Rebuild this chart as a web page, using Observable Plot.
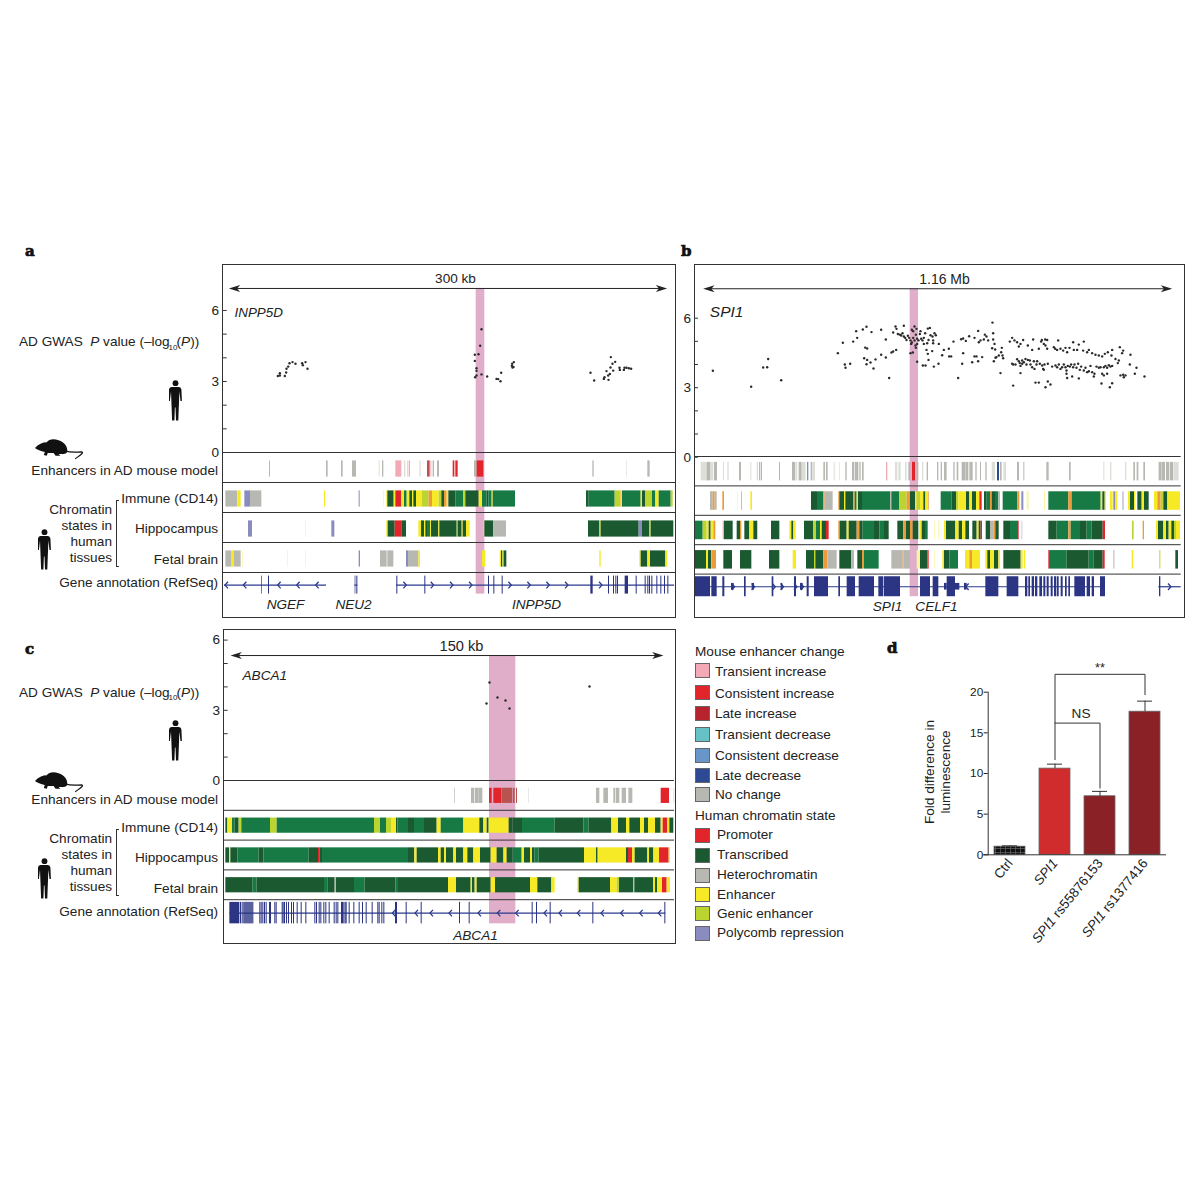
<!DOCTYPE html>
<html><head><meta charset="utf-8">
<script src="https://cdn.jsdelivr.net/npm/d3@7"></script>
<script src="https://cdn.jsdelivr.net/npm/@observablehq/plot@0.6"></script>
<style>
html,body{margin:0;padding:0;background:#fff}
#page{position:relative;width:1200px;height:1200px;overflow:hidden;font-family:"Liberation Sans",Arial,sans-serif;color:#222}
#page svg.plot{position:absolute;overflow:visible;background:none}
.l{position:absolute;white-space:nowrap;line-height:1;font-size:13.6px}
.box{position:absolute;border:1.3px solid #333;box-sizing:border-box}
sub{font-size:8px;line-height:0;margin:0 -1px}
.sw{position:absolute;width:15px;height:15px;box-sizing:border-box;border:1px solid #666}
</style></head><body><div id="page"></div>
<script>
// ---- state categories and colours ----
const mouseStates = ["Transient increase","Consistent increase","Late increase","Transient decrease","Consistent decrease","Late decrease","No change"];
const mouseColors = ["#f3aab6","#e2242b","#b7242d","#66c2c4","#6896c8","#2f4a94","#b8b8b2"];
const humanStates = ["Promoter","Transcribed","Heterochromatin","Enhancer","Genic enhancer","Polycomb repression"];
const humanColors = ["#e2242b","#1b5a30","#b8b8b2","#f6e926","#bcd430","#8a8bbf"];
const stateCodes  = ["TI","R","LI","TD","CD","LD","N","n","D","G","H","Y","y","O","P","p","A"];
const stateFills  = ["#f3aab6","#e2242b","#b7544f","#66c2c4","#6896c8","#2f4a94","#b8b8b2","#dedeD9","#1b5a30","#177a45","#b8b8b2","#f6e926","#faf3a6","#bcd430","#8a8bbf","#cfd0e6","#ee9a3a"];

// ---- panel a ----
const aGwas = [[172,3.23],[178,3.25],[178,3.35],[193,3.23],[197,3.38],[198,3.54],[203,3.63],[207,3.77],[216,3.82],[225,3.75],[245,3.77],[247,3.69],[255,3.82],[261,3.54],
[783,5.21],[779,4.51],[774,4.15],[763,4.13],[763,3.87],[768,3.56],[768,3.45],[768,3.25],[764,3.18],[783,3.3],[800,3.21],[842,3.37],[828,3.11],[833,3.1],[840,3.01],[880,3.82],[875,3.75],[874,3.66],[879,3.61],[876,3.59],
[1110,3.37],[1121,3.04],[1150,3.11],[1152,3.18],[1158,3.44],[1164,3.07],[1163,3.25],[1168,3.32],[1170,3.59],[1171,4.03],[1176,3.75],[1178,3.46],[1184,3.83],[1197,3.58],[1198,3.49],[1210,3.49],[1212,3.58],[1218,3.58],[1225,3.56],[1232,3.54]];
const aEnh = [[147,150,"N"],[318,323,"N"],[363,368,"N"],[396,408,"N"],[476,479,"n"],[486,490,"N"],[526,544,"TI"],[552,556,"n"],[561,564,"n"],[566,570,"TI"],[598,602,"n"],[621,629,"LI"],[631,634,"TI"],[638,642,"N"],[651,657,"N"],[698,703,"R"],[706,713,"R"],[762,770,"N"],[770,790,"R"],[1117,1121,"N"],[1219,1221,"n"],[1282,1289,"N"]];
const aImm = [[16,52,"H"],[53,62,"Y"],[73,90,"P"],[90,124,"H"],[312,315,"Y"],[416,419,"P"],[490,492,"y"],[499,502,"Y"],[502,521,"D"],[521,526,"Y"],[526,544,"R"],[544,552,"Y"],[552,560,"G"],[560,568,"Y"],[568,576,"D"],[576,580,"Y"],[580,588,"D"],[588,606,"Y"],[606,626,"O"],[626,636,"A"],[636,656,"Y"],[656,664,"O"],[664,672,"D"],[672,680,"A"],[680,685,"Y"],[685,706,"D"],[706,730,"G"],[730,736,"O"],[736,776,"D"],[776,786,"Y"],[786,800,"G"],[800,805,"D"],[805,815,"G"],[815,818,"Y"],[818,885,"G"],[1098,1106,"D"],[1106,1184,"G"],[1184,1198,"O"],[1198,1202,"A"],[1202,1206,"Y"],[1206,1262,"G"],[1262,1266,"Y"],[1266,1275,"D"],[1275,1296,"O"],[1296,1306,"G"],[1306,1316,"Y"],[1316,1352,"G"],[1352,1358,"O"]];
const aHip = [[84,96,"P"],[255,257,"y"],[334,343,"P"],[499,503,"Y"],[503,524,"D"],[524,544,"R"],[544,558,"D"],[595,603,"Y"],[603,612,"D"],[612,616,"Y"],[616,621,"D"],[621,630,"G"],[630,633,"Y"],[633,655,"D"],[655,658,"Y"],[658,710,"D"],[710,713,"O"],[713,725,"D"],[725,728,"Y"],[728,738,"D"],[738,749,"Y"],[790,793,"Y"],[793,820,"D"],[820,858,"H"],[1104,1138,"D"],[1138,1142,"O"],[1142,1256,"D"],[1256,1266,"P"],[1266,1288,"D"],[1288,1292,"O"],[1292,1360,"D"]];
const aFet = [[16,33,"H"],[33,42,"Y"],[42,62,"H"],[66,68,"y"],[202,204,"y"],[256,258,"y"],[416,420,"P"],[480,500,"H"],[502,520,"H"],[558,564,"P"],[564,595,"H"],[595,600,"Y"],[786,796,"Y"],[839,843,"Y"],[843,847,"D"],[847,851,"O"],[851,859,"D"],[1138,1142,"Y"],[1258,1262,"Y"],[1262,1282,"D"],[1282,1290,"Y"],[1290,1336,"D"],[1336,1342,"Y"]];
const aIntrons = [[12,318],[403,412],[528,1362]];
const aExons = [[123,125],[144,147],[404,406],[409,412],[529,532],[613,616],[804,807],[820,823],[845,848],[1111,1118],[1164,1167],[1179,1182],[1186,1189],[1191,1194],[1214,1224],[1247,1250],[1274,1277],[1282,1285],[1287,1290],[1294,1297],[1309,1312],[1321,1324],[1332,1335],[1342,1345]];
const aChevL = [18,73,176,233,290];
const aChevR = [553,635,693,750,868,925,982,1038,1140];
const aNames = [["NGEF",195],["NEU2",399],["INPP5D",948]];

// ---- panel b ----
const bGwas = [[67,3.73],[182,3.04],[218,3.87],[230,3.88],[233,4.24],[272,3.32],
[442,4.49],[457,4.94],[463,4.0],[465,3.86],[479,4.03],[488,4.99],[497,5.44],[500,5.15],[517,5.51],[528,5.63],[543,5.4],[572,5.5],[524,4.73],[530,4.69],[521,4.27],[530,4.2],[528,4.01],[540,4.09],[555,4.22],[549,3.83],[572,4.42],[586,4.3],[586,5.08],[596,3.42],[603,4.52],[608,4.56],[617,4.63],
[608,5.38],[615,5.64],[618,5.54],[622,5.32],[628,5.29],[632,5.25],[636,5.35],[640,5.67],[640,5.21],[644,5.15],[648,5.06],[652,5.24],[656,5.15],[660,5.04],[664,5.5],[664,4.95],[668,5.44],[668,5.15],[672,5.64],[672,5.04],[676,5.29],[678,5.54],[680,5.11],[684,5.04],[688,5.32],[690,5.44],[692,5.11],[696,5.04],[700,5.15],[704,5.35],[712,5.55],[718,5.58],[714,5.06],[720,5.26],[726,5.21],[732,5.35],[736,5.26],[660,4.49],[667,4.52],[676,4.72],[680,4.12],[697,3.96],[705,3.96],[714,4.2],[708,4.63],[712,4.46],[725,4.58],[728,4.92],[730,3.91],[744,4.03],[745,4.89],[662,4.89],[675,4.82],[680,4.89],[700,4.89],[710,4.92],[728,5.04],
[755,4.4],[760,4.63],[775,4.68],[776,4.35],[782,4.35],[789,4.99],[803,3.42],[815,4.03],[812,5.09],[818,5.12],[818,4.49],[826,5.02],[836,5.22],[845,4.1],[852,5.15],[852,4.35],[858,4.35],[863,5.45],[863,4.14],[865,4.96],[870,5.04],[875,4.32],[880,5.08],[883,5.29],[888,5.21],[893,5.04],[906,5.81],[908,5.35],[908,5.08],[905,4.7],[912,4.89],[914,4.65],[915,4.29],[910,4.14],[918,4.32],[925,4.39],[932,4.53],[934,4.72],[936,4.39],[938,4.27],[930,3.63],
[958,4.99],[965,5.15],[972,5.04],[980,4.96],[985,4.78],[990,4.89],[998,5.06],[1012,4.82],[1025,4.63],[1028,5.08],[1045,4.68],[1052,4.99],[1054,5.06],[1060,4.89],[1064,5.08],[1070,5.06],[1065,4.82],[1070,4.68],[1090,4.75],[1094,4.68],[1100,4.63],[1103,5.04],[1110,4.68],[1118,4.6],[1125,4.72],[1130,4.53],[1137,4.72],[1148,4.96],[1150,4.63],[1160,4.63],[1165,4.86],[1180,4.99],[1178,4.6],[1190,4.53],[1195,4.63],[1205,4.49],[1215,4.42],[1225,4.39],[1235,4.35],[1243,4.46],[1252,4.53],[1265,4.63],[1263,4.39],[1275,4.24],[1285,4.17],[1288,4.75],[1295,4.49],[1298,4.6],[1320,4.42],
[965,4.03],[968,4.0],[975,4.0],[980,4.23],[985,4.14],[988,4.06],[990,3.94],[995,4.17],[995,4.03],[1000,4.1],[1005,4.24],[1008,4.0],[1012,4.2],[1018,4.17],[1020,4.0],[1025,3.88],[1030,4.14],[1032,3.81],[1038,4.0],[1040,4.14],[1048,4.03],[1055,3.96],[1058,3.81],[1062,4.0],[1072,4.03],[1085,3.91],[1095,3.96],[1100,3.88],[1105,4.0],[1110,3.81],[1115,3.88],[1120,4.0],[1125,3.88],[1128,3.74],[1132,3.94],[1138,3.91],[1142,4.0],[1148,3.88],[1152,4.0],[1158,3.86],[1163,4.03],[1168,3.77],[1172,3.91],[1180,3.74],[1185,3.86],[1190,3.67],[1195,3.71],[1200,3.94],[1205,3.67],[1212,3.6],[1218,3.91],[1225,3.86],[1230,3.88],[1235,3.6],[1240,3.88],[1245,3.94],[1250,3.86],[1255,3.97],[1260,3.91],[1265,3.94],[1250,3.6],[1282,4.06],[1290,3.53],[1298,3.56],[1300,3.45],[1305,3.53],[1318,4.0],[1333,3.6],[1338,3.86],[1362,3.48],
[968,3.09],[1035,3.22],[1045,3.22],[1072,3.27],[1080,3.14],[1065,3.02],[1233,3.18],[1258,3.02],[1265,3.19],[1128,3.6],[1145,3.48],[1165,3.4],[1210,3.48],[1240,3.53],[1130,3.42],[990,3.63],[1060,3.77]];
const bEnh = [[32,50,"n"],[50,60,"N"],[60,70,"n"],[72,81,"N"],[99,102,"n"],[112,116,"n"],[147,153,"N"],[181,184,"n"],[200,204,"n"],[207,210,"N"],[212,216,"N"],[267,270,"N"],[306,316,"N"],[318,322,"n"],[326,335,"N"],[336,347,"n"],[351,355,"CD"],[362,367,"N"],[368,375,"n"],[400,405,"N"],[408,413,"N"],[431,434,"n"],[448,450,"n"],[466,470,"N"],[486,492,"N"],[494,505,"N"],[508,512,"N"],[516,521,"N"],[588,592,"TI"],[615,622,"n"],[625,632,"n"],[645,650,"n"],[655,660,"N"],[666,675,"R"],[680,685,"N"],[696,700,"n"],[710,714,"N"],[741,745,"N"],[752,756,"N"],[762,770,"N"],[790,794,"N"],[800,805,"N"],[815,825,"N"],[826,835,"N"],[838,848,"N"],[856,860,"N"],[870,873,"N"],[886,890,"N"],[905,915,"n"],[921,927,"LD"],[930,935,"N"],[940,948,"n"],[981,987,"N"],[1000,1003,"N"],[1069,1076,"N"],[1137,1142,"N"],[1240,1243,"n"],[1260,1264,"n"],[1305,1309,"n"],[1330,1335,"N"],[1340,1345,"N"],[1360,1365,"N"],[1406,1415,"N"],[1416,1425,"N"],[1428,1438,"N"],[1440,1450,"N"],[1452,1466,"n"]];
const bImm = [[60,68,"H"],[68,74,"A"],[74,80,"H"],[97,102,"A"],[142,144,"y"],[153,156,"TI"],[181,186,"Y"],[363,381,"D"],[381,400,"G"],[400,404,"A"],[404,428,"H"],[445,448,"A"],[448,462,"D"],[462,466,"Y"],[466,490,"D"],[490,494,"A"],[494,500,"G"],[500,504,"Y"],[504,516,"D"],[516,600,"G"],[600,604,"H"],[604,628,"G"],[628,650,"O"],[650,660,"A"],[660,675,"D"],[675,680,"Y"],[680,690,"O"],[690,700,"Y"],[700,706,"D"],[706,714,"Y"],[714,716,"A"],[752,785,"G"],[785,798,"D"],[798,805,"O"],[805,828,"Y"],[828,838,"D"],[838,846,"Y"],[846,858,"D"],[858,868,"Y"],[868,875,"R"],[882,890,"D"],[890,900,"G"],[900,905,"A"],[905,915,"D"],[915,925,"G"],[925,930,"H"],[938,982,"G"],[982,988,"A"],[994,1000,"P"],[1010,1016,"y"],[1062,1065,"y"],[1075,1135,"G"],[1135,1145,"A"],[1145,1232,"G"],[1232,1237,"Y"],[1237,1244,"D"],[1244,1248,"Y"],[1260,1268,"Y"],[1270,1276,"P"],[1276,1282,"Y"],[1296,1302,"p"],[1314,1320,"Y"],[1320,1332,"D"],[1332,1336,"Y"],[1342,1355,"D"],[1355,1362,"Y"],[1362,1376,"D"],[1392,1402,"Y"],[1402,1412,"A"],[1412,1420,"O"],[1420,1432,"D"],[1432,1470,"Y"]];
const bHip = [[14,38,"G"],[38,50,"O"],[50,56,"Y"],[56,62,"D"],[62,70,"Y"],[70,76,"A"],[98,102,"TI"],[102,128,"D"],[140,150,"D"],[150,154,"A"],[163,178,"D"],[178,190,"Y"],[190,202,"D"],[202,204,"Y"],[243,268,"D"],[298,304,"Y"],[304,310,"D"],[310,317,"Y"],[342,370,"D"],[370,378,"O"],[378,390,"G"],[390,395,"Y"],[395,408,"D"],[408,416,"R"],[445,449,"A"],[449,470,"D"],[470,476,"Y"],[476,500,"D"],[500,508,"A"],[508,518,"D"],[518,552,"G"],[552,568,"D"],[568,582,"G"],[582,596,"D"],[622,640,"D"],[640,648,"A"],[648,660,"D"],[660,668,"A"],[668,685,"D"],[688,695,"Y"],[695,705,"D"],[705,713,"G"],[732,734,"y"],[745,748,"y"],[762,768,"Y"],[768,796,"D"],[796,806,"Y"],[806,816,"D"],[816,826,"Y"],[826,837,"D"],[847,860,"D"],[860,866,"Y"],[866,872,"D"],[872,876,"R"],[887,900,"D"],[900,910,"H"],[910,916,"A"],[916,926,"D"],[940,960,"D"],[960,984,"G"],[984,986,"R"],[994,997,"p"],[1075,1100,"D"],[1100,1135,"G"],[1135,1142,"A"],[1142,1170,"G"],[1170,1190,"D"],[1190,1205,"G"],[1205,1238,"D"],[1238,1245,"R"],[1326,1331,"O"],[1358,1362,"A"],[1398,1404,"Y"],[1404,1420,"D"],[1420,1428,"Y"],[1428,1436,"D"],[1436,1444,"Y"],[1444,1452,"D"],[1452,1458,"O"],[1458,1470,"Y"]];
const bFet = [[14,48,"D"],[48,54,"Y"],[54,64,"D"],[66,78,"A"],[100,126,"D"],[150,184,"D"],[237,268,"D"],[308,318,"Y"],[348,372,"D"],[372,376,"O"],[376,400,"D"],[400,412,"A"],[412,440,"H"],[448,484,"D"],[484,492,"H"],[502,516,"D"],[516,522,"A"],[522,566,"G"],[604,638,"H"],[638,640,"A"],[640,660,"H"],[680,690,"y"],[690,712,"D"],[712,716,"R"],[732,734,"y"],[757,762,"Y"],[762,778,"D"],[778,804,"G"],[825,838,"Y"],[838,846,"A"],[846,870,"Y"],[886,892,"Y"],[892,900,"D"],[900,912,"Y"],[912,925,"D"],[925,930,"Y"],[940,992,"D"],[992,998,"Y"],[1002,1006,"Y"],[1075,1080,"R"],[1080,1130,"G"],[1130,1196,"D"],[1196,1210,"G"],[1210,1238,"D"],[1238,1244,"R"],[1270,1273,"H"],[1325,1330,"Y"],[1408,1411,"O"],[1456,1464,"D"]];
const bIntrons = [[12,1245],[1405,1472]];
const bExons = [[14,60],[64,80],[97,103],[162,167],[245,250],[312,318],[350,356],[372,414],[445,450],[470,495],[506,552],[565,580],[582,630],[690,720],[728,745],[770,795],[886,925],[950,985],[1005,1012],[1015,1020],[1025,1032],[1035,1042],[1048,1056],[1060,1066],[1070,1076],[1082,1088],[1092,1098],[1100,1106],[1112,1118],[1125,1130],[1135,1140],[1153,1185],[1190,1200],[1205,1212],[1230,1245],[1407,1411]];
const bUtrs = [[123,131],[185,192],[272,277],[330,338],[762,770],[795,808],[822,830]];
const bChevL = [830];
const bChevR = [128,188,250,275,315,335,1437];
const bNames = [["SPI1",591],["CELF1",738]];

// ---- panel c ----
const cGwas = [[807,4.19],[798,3.29],[831,3.55],[855,3.42],[867,3.08],[1107,4.02]];
const cEnh = [[703,705,"N"],[753,763,"N"],[765,775,"N"],[775,787,"N"],[807,815,"R"],[820,843,"R"],[844,876,"LI"],[878,884,"LI"],[888,891,"LI"],[925,927,"n"],[1128,1138,"N"],[1150,1164,"N"],[1180,1186,"N"],[1188,1198,"N"],[1205,1218,"N"],[1225,1237,"N"],[1322,1347,"R"],[1360,1363,"n"]];
const cImm = [[16,22,"D"],[22,36,"Y"],[36,44,"G"],[44,56,"D"],[56,64,"O"],[64,150,"G"],[150,170,"O"],[170,462,"G"],[462,480,"O"],[480,498,"G"],[498,513,"O"],[513,528,"Y"],[528,532,"D"],[532,564,"G"],[564,582,"D"],[582,612,"G"],[612,650,"D"],[650,662,"Y"],[662,730,"G"],[730,778,"Y"],[778,790,"D"],[790,800,"Y"],[800,806,"D"],[806,866,"Y"],[866,878,"D"],[878,906,"D"],[906,1004,"G"],[1004,1090,"D"],[1090,1106,"G"],[1106,1174,"D"],[1174,1194,"Y"],[1194,1218,"D"],[1218,1228,"Y"],[1228,1260,"D"],[1260,1272,"Y"],[1272,1284,"D"],[1284,1305,"Y"],[1305,1322,"D"],[1322,1328,"Y"],[1328,1342,"R"],[1342,1348,"Y"],[1348,1360,"D"]];
const cHip = [[16,27,"D"],[27,31,"Y"],[31,52,"D"],[52,116,"G"],[116,130,"D"],[130,266,"G"],[266,294,"D"],[294,298,"R"],[298,306,"D"],[306,564,"G"],[564,583,"D"],[583,590,"Y"],[590,654,"D"],[654,662,"Y"],[662,672,"D"],[672,678,"Y"],[678,700,"D"],[700,708,"Y"],[708,730,"D"],[730,742,"Y"],[742,760,"D"],[760,780,"Y"],[780,812,"D"],[812,830,"Y"],[830,850,"D"],[850,860,"Y"],[860,878,"D"],[878,905,"G"],[905,912,"Y"],[912,930,"D"],[930,936,"Y"],[936,944,"D"],[944,956,"G"],[956,1092,"D"],[1092,1128,"Y"],[1128,1133,"D"],[1133,1218,"Y"],[1218,1224,"D"],[1224,1236,"R"],[1236,1244,"Y"],[1244,1282,"D"],[1282,1287,"Y"],[1287,1300,"D"],[1300,1317,"Y"],[1317,1346,"R"],[1346,1350,"Y"]];
const cFet = [[16,98,"D"],[98,110,"G"],[110,312,"D"],[312,322,"G"],[322,344,"D"],[344,348,"H"],[348,402,"D"],[402,434,"G"],[434,526,"D"],[526,534,"G"],[534,684,"D"],[684,708,"Y"],[708,752,"D"],[752,756,"Y"],[756,764,"D"],[764,770,"Y"],[770,812,"D"],[812,825,"Y"],[825,930,"D"],[930,952,"Y"],[952,994,"D"],[994,1004,"Y"],[1072,1076,"Y"],[1076,1170,"D"],[1170,1190,"Y"],[1190,1197,"O"],[1197,1240,"D"],[1240,1243,"H"],[1243,1300,"D"],[1300,1305,"Y"],[1305,1311,"D"],[1311,1326,"Y"],[1326,1340,"R"],[1340,1350,"Y"]];
const cIntrons = [[28,1336]];
const cExons = [[28,58],[525,531],...[60,65,70,73,76,79,82,85,88,91,94,97,118,122,127,132,137,147,150,163,167,185,188,192,198,204,213,219,230,242,256,283,288,296,301,310,316,326,341,347,352,363,366,370,374,377,386,400,416,426,437,455,472,476,484,490,557,602,717,746,935,948,989,1117,1333].map(x=>[x,x+3])];
const cChevL = [520,588,633,690,777,835,890,975,1020,1075,1146,1205,1262,1318];
const cChevR = [];
const cNames = [["ABCA1",765]];

// ---- panel d ----
const dCats = ["Ctrl","SPI1","SPI1 rs55876153","SPI1 rs1377416"];
const dMeans = [1.0,10.6,7.2,17.6];
const dHighs = [1.1,11.15,7.8,18.9];
const dColors = ["url(#ctrlGrid)","#d02c2e","#8a2127","#8a2127"];
const dBracketOuter = [[ "SPI1",11.7],["SPI1",22.2],["SPI1 rs1377416",22.2],["SPI1 rs1377416",19.7]];
const dBracketInner = [["SPI1",16.2],["SPI1 rs55876153",16.2],["SPI1 rs55876153",8.2]];

// ---- helpers ----
const FONT = '"Liberation Sans",Arial,sans-serif';
const page = document.getElementById("page");
const stateColor = {type:"ordinal",domain:stateCodes,range:stateFills};
function label(html,x,y,o={}){
  const e=document.createElement("div");e.className="l";e.innerHTML=html;
  e.style.left=x+"px";e.style.top=y+"px";
  const tx=o.anchor==="end"?"-100%":o.anchor==="middle"?"-50%":"0";
  e.style.transform=`translate(${tx},-50%)`+(o.rotate?` rotate(${o.rotate}deg)`:"");
  if(o.size)e.style.fontSize=o.size+"px";
  if(o.italic)e.style.fontStyle="italic";
  if(o.bold){e.style.fontWeight="900";e.style.fontFamily='"DejaVu Serif",serif';e.style.webkitTextStroke=".7px #111";e.style.color="#111"}
  page.appendChild(e);return e;
}
function place(svg,left,top){svg.classList.add("plot");svg.style.left=left+"px";svg.style.top=top+"px";page.appendChild(svg);return svg}
function frameBox(x1,y1,x2,y2){const b=document.createElement("div");b.className="box";b.style.cssText=`left:${x1}px;top:${y1}px;width:${x2-x1}px;height:${y2-y1}px`;page.appendChild(b)}
const arrowHead={draw(c,s){const r=Math.sqrt(s);c.moveTo(r,0);c.lineTo(-r,-r*.62);c.lineTo(-r*.45,0);c.lineTo(-r,r*.62);c.closePath()}};
const chevron={draw(c,s){const r=Math.sqrt(s)*.62;c.moveTo(-r*.45,-r);c.lineTo(r*.45,0);c.lineTo(-r*.45,r)}};
const NAVY="#2b3a8c";
const BLUE="#2c3583";

function panel(p){
  const rows=[p.enh,p.imm,p.hip,p.fet];
  const segs=rows.flatMap((a,i)=>a.map(([x1,x2,s])=>({x1,x2,s,row:i})));
  const xs={domain:[0,p.xmax],range:[20,20+p.xmax/3],axis:null};
  // GWAS scatter
  place(Plot.plot({
    width:p.xmax/3+20,height:p.baseY-p.top,marginLeft:p.frameL-p.originX+20,marginTop:0,marginRight:0,marginBottom:0,
    style:{fontFamily:FONT,fontSize:"13.6px",color:"#222",background:"none"},
    x:xs,y:{domain:[0,6],range:[p.baseY-p.top,p.baseY-p.top-6*p.unit]},
    marks:[
      Plot.rect([0],{x1:p.pink[0],x2:p.pink[1],y1:0,y2:p.arrowV,fill:"#e0aec9"}),
      Plot.ruleY(d3.range(0,7),{x1:p.tickU,x2:p.tickU+12,stroke:"#333",strokeWidth:1}),
      Plot.axisY([0,3,6],{anchor:"left",tickSize:0,tickPadding:3.5,tickFormat:d3.format("d"),label:null,fontSize:13.6}),
      Plot.ruleY([p.arrowV],{x1:p.arrow[0],x2:p.arrow[1],stroke:"#222",strokeWidth:1}),
      Plot.dot(p.arrow.map((x,i)=>({x,r:i?0:180})),{x:"x",y:()=>p.arrowV,symbol:()=>arrowHead,r:3.2,rotate:"r",fill:"#222",stroke:"none"}),
      Plot.text([p.span],{x:p.spanX,y:p.arrowV,text:d=>d,dy:-9.5,fontSize:p.spanSize,fill:"#222"}),
      Plot.text([p.gene],{x:p.geneX,y:p.geneV,text:d=>d,textAnchor:"start",fontStyle:"italic",fontSize:p.geneSize||13.4,fill:"#222"}),
      Plot.dot(p.gwas,{x:"0",y:"1",r:p.dotR||1.2,fill:"#2a2a2a",stroke:"none"})
    ]
  }),p.originX-20,p.top);
  // annotation tracks
  const [i1,i2]=p.barInset,[g1,g2]=p.geneInset;
  const yMid=4+(g1+g2)/2;
  place(Plot.plot({
    width:p.xmax/3+20,height:p.rowH*5+30,margin:0,
    style:{fontFamily:FONT,background:"none"},
    x:xs,y:{domain:[0,5],range:[0,p.rowH*5],axis:null},
    color:stateColor,
    marks:[
      Plot.rect([0],{x1:p.pink[0],x2:p.pink[1],y1:0,y2:4+g2,fill:"#e0aec9"}),
      Plot.rect(segs,{x1:"x1",x2:"x2",y1:d=>d.row+i1,y2:d=>d.row+i2,fill:"s"}),
      Plot.ruleY(d3.range(0,5),{x1:p.sepU[0],x2:p.sepU[1],stroke:"#333",strokeWidth:1}),
      Plot.ruleY(p.introns,{x1:"0",x2:"1",y:()=>yMid,stroke:NAVY,strokeWidth:1.2}),
      Plot.rect(p.exons,{x1:"0",x2:"1",y1:()=>4+g1,y2:()=>4+g2,fill:BLUE}),
      Plot.rect(p.utrs||[],{x1:"0",x2:"1",y1:()=>4+(g1*2+g2)/3,y2:()=>4+(g1+g2*2)/3,fill:BLUE}),
      Plot.dot(p.chevR,{x:d=>d,y:()=>yMid,symbol:()=>chevron,r:3,fill:"none",stroke:NAVY,strokeWidth:1.3}),
      Plot.dot(p.chevL,{x:d=>d,y:()=>yMid,symbol:()=>chevron,r:3,rotate:180,fill:"none",stroke:NAVY,strokeWidth:1.3}),
      Plot.text(p.names,{x:"1",y:()=>p.nameRow,text:"0",fontStyle:"italic",fontSize:13.6,fill:"#222"})
    ]
  }),p.originX-20,p.baseSep);
  frameBox(p.frameL,p.top,p.frameR,p.frameB);
}

panel({originX:220,top:264,baseY:452,baseSep:452,unit:23.67,rowH:30,xmax:1380,frameL:222,frameR:676,frameB:618,tickU:8,
  pink:[767,793],arrow:[42,1323],arrowV:6.93,span:"300 kb",spanX:705,spanSize:13.6,gene:"INPP5D",geneX:42,geneV:5.92,geneSize:13.4,
  barInset:[.28,.82],geneInset:[.12,.72],sepU:[8,1365],nameRow:5.08,
  gwas:aGwas,enh:aEnh,imm:aImm,hip:aHip,fet:aFet,introns:aIntrons,exons:aExons,chevR:aChevR,chevL:aChevL,names:aNames});
panel({originX:690,top:264,baseY:456.7,baseSep:456,unit:23.17,rowH:29.4,xmax:1500,frameL:694,frameR:1185,frameB:618,tickU:12,
  pink:[659,684],arrow:[55,1428],arrowV:7.27,span:"1.16 Mb",spanX:762,spanSize:14,gene:"SPI1",geneX:58,geneV:6.25,geneSize:15.5,
  barInset:[.2,.83],geneInset:[.09,.77],sepU:[12,1472],nameRow:5.11,
  gwas:bGwas,enh:bEnh,imm:bImm,hip:bHip,fet:bFet,introns:bIntrons,exons:bExons,utrs:bUtrs,chevR:bChevR,chevL:bChevL,names:bNames});
panel({originX:220,top:629,baseY:780,baseSep:780,unit:23.4,rowH:29.8,xmax:1380,frameL:223,frameR:676,frameB:944,tickU:11,
  pink:[807,886],arrow:[47,1312],arrowV:5.34,span:"150 kb",spanX:723,spanSize:14.6,gene:"ABCA1",geneX:66,geneV:4.48,geneSize:13.6,
  barInset:[.26,.77],geneInset:[.09,.81],sepU:[11,1362],nameRow:5.22,
  gwas:cGwas,enh:cEnh,imm:cImm,hip:cHip,fet:cFet,introns:cIntrons,exons:cExons,chevR:cChevR,chevL:cChevL,names:cNames});

// ---- panel letters ----
[["a",25,251],["b",681,251],["c",25,649],["d",887,648]].forEach(([t,x,y])=>label(t,x,y,{bold:true,size:15}));

// ---- row labels left of panels a and c ----
function sideLabels(o,gwasY,enhY,imm,hip,fet,gene){
  label('AD GWAS&nbsp; <i>P</i> value (–log<sub>10</sub>(<i>P</i>))',19,gwasY);
  label("Enhancers in AD mouse model",218,enhY,{anchor:"end"});
  label("Immune (CD14)",218,imm,{anchor:"end"});
  label("Hippocampus",218,hip,{anchor:"end"});
  label("Fetal brain",218,fet,{anchor:"end"});
  label("Gene annotation (RefSeq)",218,gene,{anchor:"end"});
  ["Chromatin","states in","human","tissues"].forEach((t,i)=>label(t,112,o+[509.5,526,542,558][i],{anchor:"end"}));
  const br=document.createElement("div");
  br.style.cssText=`position:absolute;left:116px;top:${o+500}px;width:3px;height:67px;border:1px solid #333;border-right:none;box-sizing:border-box;`;
  page.appendChild(br);
}
sideLabels(0,342,470.5,499,528.5,559.5,582.5);
sideLabels(329,692.5,799.5,828,857.5,888.5,911.5);

// ---- silhouettes ----
function picto(paths,x,y,w,h,vw,vh){
  const s=document.createElementNS("http://www.w3.org/2000/svg","svg");
  s.setAttribute("viewBox",`0 0 ${vw} ${vh}`);s.style.cssText=`position:absolute;left:${x}px;top:${y}px;width:${w}px;height:${h}px`;
  s.innerHTML=paths;page.appendChild(s);
}
const human='<circle cx="6.5" cy="3.2" r="2.9" fill="#111"/><path fill="#111" d="M3.2,7 h6.6 q2.4,.2 2.6,2.4 l.5,11.6 h-1.4 l-1.1,-9.4 l-.3,8 l-.8,21 h-2.3 l-.5,-13 h-.6 l-.5,13 h-2.3 l-.8,-21 l-.3,-8 l-1.1,9.4 h-1.4 l.5,-11.6 q.2,-2.2 2.6,-2.4z"/>';
const mouse='<path fill="#111" d="M0,10 C3,6 8,4 12,4 C14,1 19,0 24,2 C30,4 33,8 33,13 C33,15 31,16 29,16 L24,16 L26,18 L21,18 L19,15 L13,15 L12,18 L9,17 L10,14 C6,13 2,12 0,10Z"/><path fill="none" stroke="#111" stroke-width="1.2" d="M31,13 C37,15 42,14 48,14 C50,15 45,18 41,21"/>';
picto(human,169,380,13,42,13,42);picto(human,38,529,13,42,13,42);
picto(human,169,720,13,42,13,42);picto(human,38,858,13,42,13,42);
picto(mouse,35,438,49,23,50,23);picto(mouse,35,771,49,23,50,23);

// ---- legend ----
label("Mouse enhancer change",695,652);
[670.5,692.5,713,734,755,775,794].forEach((y,i)=>{
  const s=document.createElement("div");s.className="sw";s.style.cssText=`left:694.5px;top:${y-7.5}px;background:${mouseColors[i]}`;page.appendChild(s);
  label(mouseStates[i],715,y+1);
});
label("Human chromatin state",695,816);
[835,855,875,894.5,913.5,933].forEach((y,i)=>{
  const s=document.createElement("div");s.className="sw";s.style.cssText=`left:695px;top:${y-7.5}px;background:${humanColors[i]}`;page.appendChild(s);
  label(humanStates[i],717,y);
});

// ---- panel d ----
const dRows=dCats.map((c,i)=>({c,m:dMeans[i],h:dHighs[i],f:dColors[i]}));
const dPlot=Plot.plot({
  width:300,height:320,marginTop:51.7,marginBottom:105.7,marginLeft:97.7,marginRight:20,
  style:{fontFamily:FONT,fontSize:"11.8px",color:"#222",background:"none"},
  x:{domain:dCats,type:"band",paddingInner:.315,paddingOuter:.157,align:.5,axis:null,range:[95.7,279]},
  y:{domain:[0,20],axis:null},
  marks:[
    Plot.barY(dRows,{x:"c",y:"m",fill:"f",stroke:"#666",strokeWidth:.8}),
    Plot.ruleX(dRows,{x:"c",y1:"m",y2:"h",stroke:"#333",strokeWidth:1}),
    Plot.tickY(dRows,{x:"c",y:"h",stroke:"#333",strokeWidth:1,insetLeft:8,insetRight:8}),
    Plot.ruleY([0],{stroke:"#333",strokeWidth:1,insetLeft:-5,insetRight:4}),
    Plot.frame({anchor:"left",stroke:"#333",strokeWidth:1}),
    Plot.axisY({ticks:[0,5,10,15,20],tickSize:4,tickPadding:1,label:null,anchor:"left"}),
    Plot.axisX({tickRotate:-51,tickSize:0,tickPadding:6,label:null,anchor:"bottom",fontSize:13.4}),
    Plot.line(dBracketOuter,{x:"0",y:"1",stroke:"#333",strokeWidth:1,curve:"linear"}),
    Plot.line(dBracketInner,{x:"0",y:"1",stroke:"#333",strokeWidth:1,curve:"linear"}),
    Plot.text(["**"],{x:()=>"SPI1 rs55876153",y:()=>23,text:d=>d,fontSize:12.6,fill:"#222"}),
    Plot.text(["NS"],{x:()=>"SPI1",y:()=>17.4,dx:26,text:d=>d,fontSize:13.6,fill:"#222"})
  ]
});
place(dPlot,890,640);
d3.select(dPlot).insert("defs",":first-child").html('<pattern id="ctrlGrid" patternUnits="userSpaceOnUse" width="5" height="4"><rect width="5" height="4" fill="#111"/><path d="M0,.5H5M.5,0V4" stroke="#666" stroke-width=".7"/></pattern>');
d3.select(dPlot).selectAll('g[aria-label="x-axis tick label"] text').each(function(){
  const t=this.textContent;this.textContent="";
  const m=t.match(/^(SPI1)(.*)$/);
  if(m){d3.select(this).append("tspan").attr("font-style","italic").text(m[1]);d3.select(this).append("tspan").text(m[2])}
  else this.textContent=t;
});
label("Fold difference in",930,772,{anchor:"middle",rotate:-90,size:13.6});
label("luminescence",946,772,{anchor:"middle",rotate:-90,size:13.6});
</script></body></html>
